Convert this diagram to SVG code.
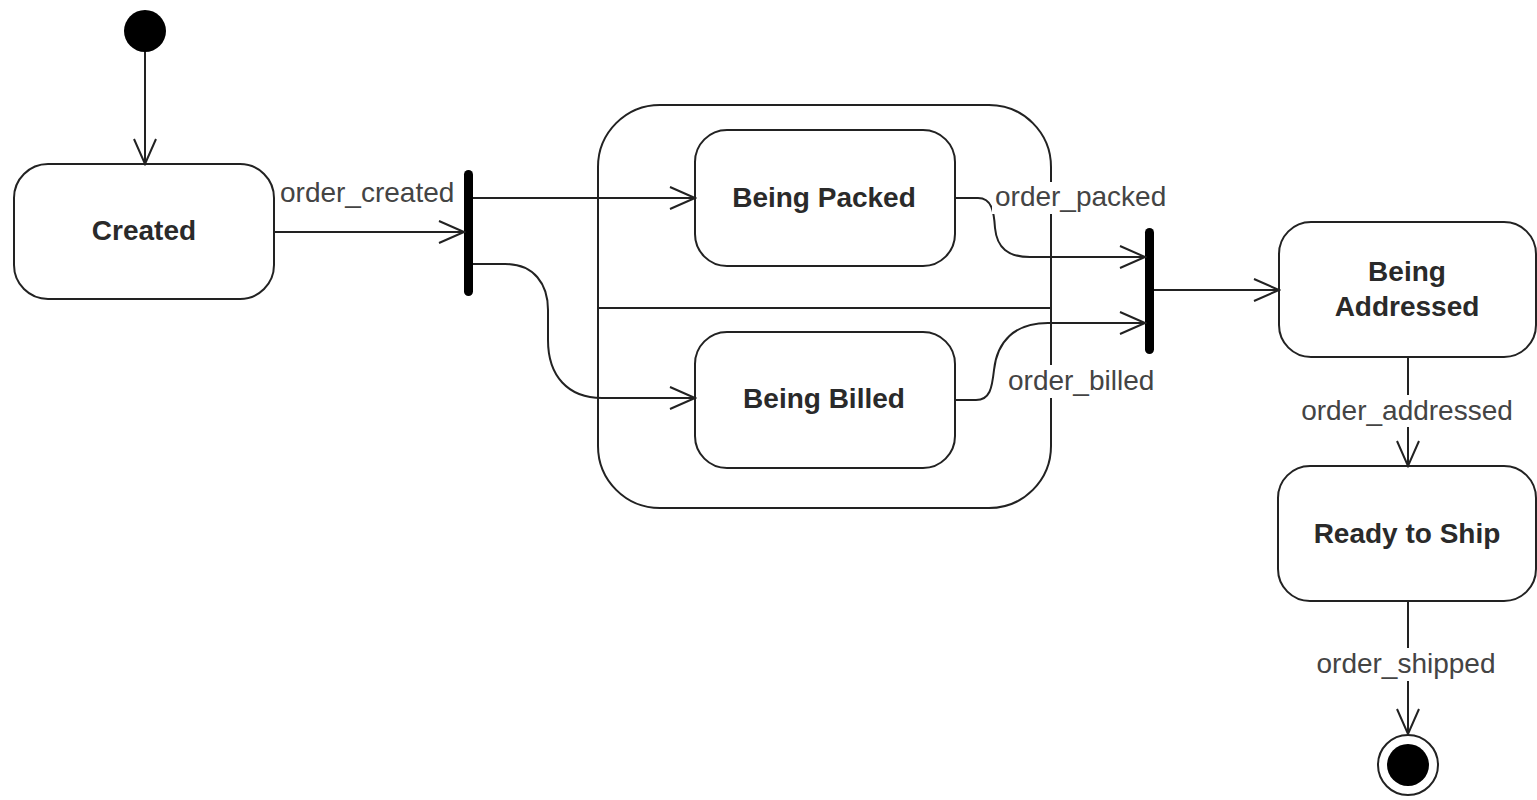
<svg xmlns="http://www.w3.org/2000/svg" width="1537" height="800" viewBox="0 0 1537 800">
  <style>
    .state { fill: #fff; stroke: #222; stroke-width: 2; }
    .name { font-family: "Liberation Sans", Arial, sans-serif; font-size: 28px; font-weight: bold; fill: #2a2a2a; text-anchor: middle; }
    .lbl { font-family: "Liberation Sans", Arial, sans-serif; font-size: 28px; fill: #444; }
    .edge { fill: none; stroke: #222; stroke-width: 2; }
    .bar { fill: #000; }
    .bg { fill: #fff; }
  </style>
  <defs>
    <marker id="open" markerWidth="28" markerHeight="24" refX="26" refY="12" orient="auto" markerUnits="userSpaceOnUse">
      <path d="M1,1 L26,12 L1,23" fill="none" stroke="#222" stroke-width="2"/>
    </marker>
  </defs>

  <rect width="1537" height="800" fill="#fff"/>

  <!-- composite state with two concurrent regions -->
  <g id="composite">
    <rect class="state" x="598" y="105" width="453" height="403" rx="62" ry="62"/>
    <line class="edge" x1="598" y1="308" x2="1051" y2="308"/>
  </g>

  <g id="initial">
    <circle cx="145" cy="31" r="21" fill="#000"/>
  </g>

  <g id="created">
    <rect class="state" x="14" y="164" width="260" height="135" rx="34" ry="34"/>
    <text class="name" x="144" y="240">Created</text>
  </g>

  <g id="fork">
    <rect class="bar" x="464" y="170" width="9" height="126" rx="4.5"/>
  </g>

  <g id="packed">
    <rect class="state" x="695" y="130" width="260" height="136" rx="32" ry="32"/>
    <text class="name" x="824" y="207">Being Packed</text>
  </g>

  <g id="billed">
    <rect class="state" x="695" y="332" width="260" height="136" rx="32" ry="32"/>
    <text class="name" x="824" y="408">Being Billed</text>
  </g>

  <g id="join">
    <rect class="bar" x="1145" y="228" width="9" height="126" rx="4.5"/>
  </g>

  <g id="addressed">
    <rect class="state" x="1279" y="222" width="257" height="135" rx="32" ry="32"/>
    <text class="name" x="1407" y="281">Being</text>
    <text class="name" x="1407" y="316">Addressed</text>
  </g>

  <g id="ready">
    <rect class="state" x="1278" y="466" width="258" height="135" rx="32" ry="32"/>
    <text class="name" x="1407" y="543">Ready to Ship</text>
  </g>

  <g id="final">
    <circle cx="1408" cy="765" r="30" fill="#fff" stroke="#222" stroke-width="2"/>
    <circle cx="1408" cy="765" r="21" fill="#000"/>
  </g>

  <g id="connectors">
    <line class="edge" x1="145" y1="52" x2="145" y2="164" marker-end="url(#open)"/>
    <line class="edge" x1="274" y1="232" x2="464" y2="232" marker-end="url(#open)"/>
    <line class="edge" x1="473" y1="198" x2="695" y2="198" marker-end="url(#open)"/>
    <path class="edge" d="M473,264 H505 C534,264 548,284 548,310 V340 C548,376 568,398 602,398 H695" marker-end="url(#open)"/>
    <path class="edge" d="M955,198 H978 C992,198 994,212 995,228 C997,248 1008,257 1030,257 H1145" marker-end="url(#open)"/>
    <path class="edge" d="M955,400 H976 C990,400 992,388 994,370 C997,342 1014,323 1048,323 H1145" marker-end="url(#open)"/>
    <line class="edge" x1="1154" y1="290" x2="1279" y2="290" marker-end="url(#open)"/>
    <line class="edge" x1="1408" y1="357" x2="1408" y2="466" marker-end="url(#open)"/>
    <line class="edge" x1="1408" y1="601" x2="1408" y2="734" marker-end="url(#open)"/>
  </g>

  <g id="labels">
    <text class="lbl" x="280" y="202">order_created</text>
    <rect class="bg" x="992" y="182" width="180" height="32"/>
    <text class="lbl" x="995" y="206">order_packed</text>
    <rect class="bg" x="1005" y="365" width="155" height="33"/>
    <text class="lbl" x="1008" y="390">order_billed</text>
    <rect class="bg" x="1296" y="395" width="222" height="32"/>
    <text class="lbl" x="1407" y="420" text-anchor="middle">order_addressed</text>
    <rect class="bg" x="1312" y="648" width="188" height="33"/>
    <text class="lbl" x="1406" y="673" text-anchor="middle">order_shipped</text>
  </g>
</svg>
